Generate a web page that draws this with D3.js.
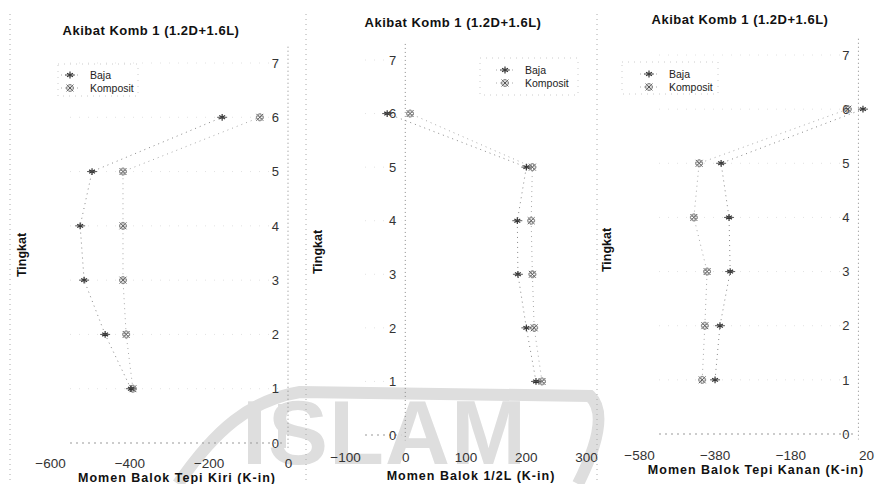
<!DOCTYPE html>
<html>
<head>
<meta charset="utf-8">
<script src="https://cdn.jsdelivr.net/npm/d3@7/dist/d3.min.js"></script>
<style>
  html, body { margin: 0; padding: 0; background: #fff; }
  svg { display: block; font-family: "Liberation Sans", Arial, sans-serif; }
</style>
</head>
<body>
<svg id="chart" width="877" height="484"></svg>
<script>
// ---- data ----
const levels = [1, 2, 3, 4, 5, 6];
const levelTicks = [0, 1, 2, 3, 4, 5, 6, 7];
const seriesNames = ["Baja", "Komposit"];
const chartTitle = "Akibat Komb 1 (1.2D+1.6L)";
const yTitle = "Tingkat";

const bajaKiri = [-396, -461, -514, -524, -494, -166];
const kompositKiri = [-391, -408, -416, -416, -416, -71];
const ticksKiri = [-600, -400, -200, 0];

const bajaTengah = [217, 201, 187, 186, 201, -30];
const kompositTengah = [227, 214, 211, 209, 211, 8];
const ticksTengah = [-100, 0, 100, 200, 300];

const bajaKanan = [-379, -366, -339, -342, -363, 12];
const kompositKanan = [-413, -406, -400, -435, -421, -28];
const ticksKanan = [-580, -380, -180, 20];

const xTitles = ["Momen Balok Tepi Kiri (K-in)", "Momen Balok 1/2L (K-in)", "Momen Balok Tepi Kanan (K-in)"];

// ---- layout per panel ----
const panels = [
  { baja: bajaKiri, komp: kompositKiri, ticks: ticksKiri, xTitle: xTitles[0],
    xd: [-600, 0], xr: [50, 288], yr: [443, 63], frameX: 10,
    titleX: 151, titleY: 35, tickY: 468, xTitleX: 177, xTitleY: 482,
    yTitleX: 26, yTitleY: 255, legX: 70, legY: 75, box: [58, 64, 80, 32] },
  { baja: bajaTengah, komp: kompositTengah, ticks: ticksTengah, xTitle: xTitles[1],
    xd: [-100, 300], xr: [345, 586], yr: [435, 60], frameX: 306,
    titleX: 453, titleY: 27, tickY: 462, xTitleX: 471, xTitleY: 480,
    yTitleX: 322, yTitleY: 252, legX: 505, legY: 70, box: [480, 58, 98, 37] },
  { baja: bajaKanan, komp: kompositKanan, ticks: ticksKanan, xTitle: xTitles[2],
    xd: [-580, 20], xr: [639, 866], yr: [434, 55], frameX: 597,
    titleX: 740, titleY: 24, tickY: 460, xTitleX: 756, xTitleY: 474,
    yTitleX: 611, yTitleY: 250, legX: 649, legY: 74, box: [622, 62, 96, 32] }
];

const svg = d3.select("#chart");

// ---- watermark (scan background) ----
const wm = svg.append("g").attr("class", "watermark");
wm.append("path")
  .attr("d", "M 178 484 C 215 430, 250 400, 300 392 L 590 396 C 605 410, 600 440, 578 484")
  .attr("fill", "none").attr("stroke", "#dedede").attr("stroke-width", 12);
wm.append("rect").attr("x", 278).attr("y", 404).attr("width", 8).attr("height", 44).attr("fill", "#dedede");
wm.append("text").attr("x", 242).attr("y", 464)
  .attr("font-size", 90).attr("font-weight", "bold").attr("fill", "#dedede")
  .attr("letter-spacing", 1).text("ISLAM");

const bajaSym = d3.symbol().type(d3.symbolAsterisk).size(32);
const kompSym1 = d3.symbol().type(d3.symbolTimes).size(32);
const kompSym2 = d3.symbol().type(d3.symbolCross).size(26);

function drawMarker(g, x, y, kind) {
  const m = g.append("g").attr("transform", `translate(${x},${y})`);
  if (kind === "Baja") {
    m.append("path").attr("d", bajaSym()).attr("fill", "none").attr("stroke", "#333").attr("stroke-width", 1.2);
    m.append("line").attr("x1", -5).attr("x2", 5).attr("stroke", "#444").attr("stroke-width", 0.9);
  } else {
    m.append("path").attr("d", kompSym1()).attr("fill", "none").attr("stroke", "#555").attr("stroke-width", 1);
    m.append("path").attr("d", kompSym2()).attr("fill", "none").attr("stroke", "#777").attr("stroke-width", 0.8);
    m.append("circle").attr("r", 3.4).attr("fill", "none").attr("stroke", "#888").attr("stroke-width", 0.7).attr("stroke-dasharray", "1.5,1");
  }
}

panels.forEach(p => {
  const g = svg.append("g");
  const x = d3.scaleLinear().domain(p.xd).range(p.xr);
  const y = d3.scaleLinear().domain([0, 7]).range(p.yr);

  // frame dotted line (left)
  g.append("line").attr("x1", p.frameX).attr("x2", p.frameX).attr("y1", 14).attr("y2", 484)
    .attr("stroke", "#aaa").attr("stroke-dasharray", "1,4");

  // level-0 baseline & faint level grid
  g.append("g").selectAll("line").data(levelTicks).join("line")
    .attr("x1", p.xr[0] + 20).attr("x2", x(0) - 4)
    .attr("y1", d => y(d)).attr("y2", d => y(d))
    .attr("stroke", d => d === 0 ? "#999" : "#e2e2e2")
    .attr("stroke-dasharray", d => d === 0 ? "2,4" : "1,8");

  // y axis at x=0 (dotted, labels left)
  const yAxis = d3.axisLeft(y).tickValues(levelTicks).tickSize(0).tickPadding(9).tickFormat(d3.format("d"));
  const ya = g.append("g").attr("transform", `translate(${x(0)},0)`).call(yAxis);
  ya.select(".domain").attr("stroke", "#888").attr("stroke-dasharray", "1,3")
    .attr("d", `M0,${y(7.3)}V${y(-0.1)}`);
  ya.selectAll("text").attr("font-size", 13).attr("fill", "#333")
    .attr("font-family", "'Liberation Sans', Arial, sans-serif");

  // x axis tick labels
  const xAxis = d3.axisBottom(x).tickValues(p.ticks).tickSize(0).tickPadding(0).tickFormat(d3.format("d"));
  const xa = g.append("g").attr("transform", `translate(0,${p.tickY - 10})`).call(xAxis);
  xa.select(".domain").remove();
  xa.selectAll("text").attr("font-size", 13.5).attr("fill", "#333")
    .attr("font-family", "'Liberation Sans', Arial, sans-serif");

  // lines
  const line = d3.line().x(d => x(d[0])).y(d => y(d[1]));
  [p.baja, p.komp].forEach((vals, i) => {
    g.append("path").datum(vals.map((v, k) => [v, levels[k]]))
      .attr("d", line).attr("fill", "none")
      .attr("stroke", i === 0 ? "#888" : "#aaa").attr("stroke-width", 1)
      .attr("stroke-dasharray", "1,4");
  });
  // markers
  p.komp.forEach((v, k) => drawMarker(g, x(v), y(levels[k]), "Komposit"));
  p.baja.forEach((v, k) => drawMarker(g, x(v), y(levels[k]), "Baja"));

  // title
  g.append("text").attr("x", p.titleX).attr("y", p.titleY).attr("text-anchor", "middle")
    .attr("font-size", 13).attr("font-weight", "bold").attr("fill", "#111")
    .attr("letter-spacing", 0.5).text(chartTitle);

  // x title
  g.append("text").attr("x", p.xTitleX).attr("y", p.xTitleY).attr("text-anchor", "middle")
    .attr("font-size", 12.5).attr("font-weight", "bold").attr("fill", "#111")
    .attr("letter-spacing", 1).text(p.xTitle);

  // y title
  g.append("text").attr("transform", `translate(${p.yTitleX},${p.yTitleY}) rotate(-90)`)
    .attr("text-anchor", "middle").attr("font-size", 12.5).attr("font-weight", "bold").attr("fill", "#111")
    .text(yTitle);

  // legend
  g.append("rect").attr("x", p.box[0]).attr("y", p.box[1]).attr("width", p.box[2]).attr("height", p.box[3])
    .attr("fill", "none").attr("stroke", "#ccc").attr("stroke-dasharray", "1,5");
  seriesNames.forEach((name, i) => {
    const ly = p.legY + i * 13;
    g.append("line").attr("x1", p.legX - 9).attr("x2", p.legX + 9).attr("y1", ly).attr("y2", ly)
      .attr("stroke", "#aaa").attr("stroke-dasharray", "1,3");
    drawMarker(g, p.legX, ly, name);
    g.append("text").attr("x", p.legX + 20).attr("y", ly + 4)
      .attr("font-size", 10.5).attr("fill", "#222").text(name);
  });
});
</script>
</body>
</html>
